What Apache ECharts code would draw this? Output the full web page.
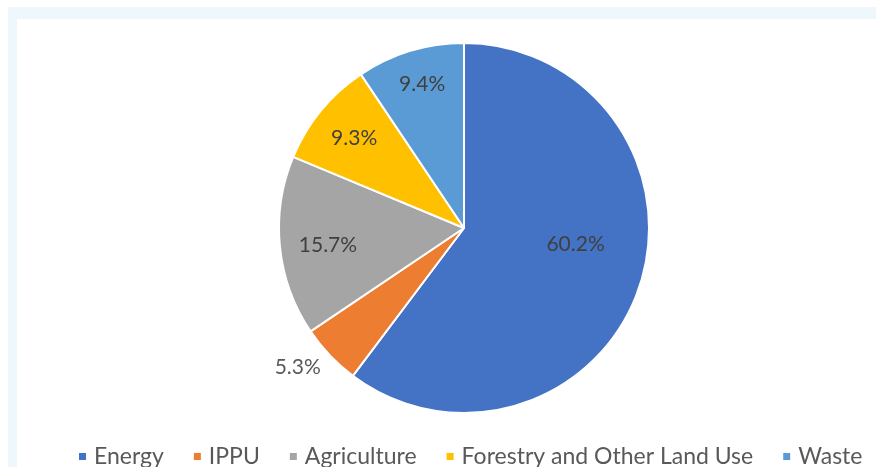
<!DOCTYPE html>
<html>
<head>
<meta charset="utf-8">
<script src="https://cdn.jsdelivr.net/npm/echarts@6/dist/echarts.min.js"></script>
<style>
  html, body { margin: 0; padding: 0; background: #ffffff; }
  #frame { position: absolute; left: 8px; top: 7px; width: 868px; height: 460px;
           border-top: 12px solid #eef7fc; border-left: 9px solid #eef7fc; box-sizing: border-box; }
  #chart { position: absolute; left: 0; top: 0; width: 876px; height: 467px; }
</style>
</head>
<body>
<div id="frame"></div>
<div id="chart"></div>
<script>
const categories = ['Energy', 'IPPU', 'Agriculture', 'Forestry and Other Land Use', 'Waste'];
const shares = [60.2, 5.3, 15.7, 9.3, 9.4];

const colors = ['#4472C4', '#ED7D31', '#A5A5A5', '#FFC000', '#5B9BD5'];
// label nudges from the default "inside" spot (visual tuning only)
const labelNudge = [[21, -14], [-97, 73], [-41, 8], [-36, -29], [-14, -52]];

const chart = echarts.init(document.getElementById('chart'), null, { renderer: 'canvas' });
const FONT = 'Lato, "Liberation Sans", sans-serif';

chart.setOption({
  backgroundColor: 'transparent',
  animation: false,
  color: colors,
  legend: {
    data: categories,
    left: 77,
    top: 445,
    width: 795,
    padding: 0,
    icon: 'rect',
    itemWidth: 9,
    itemHeight: 9,
    itemGap: 28,
    textStyle: { color: '#595959', fontSize: 23, fontFamily: FONT, padding: [0, 0, 0, 2] }
  },
  series: [{
    type: 'pie',
    center: [464, 228],
    radius: [0, 185],
    startAngle: 90,
    clockwise: true,
    avoidLabelOverlap: false,
    itemStyle: { borderColor: '#ffffff', borderWidth: 2 },
    label: {
      show: true,
      position: 'inside',
      formatter: '{c}%',
      color: '#404040',
      fontSize: 21,
      fontFamily: FONT
    },
    labelLine: { show: false },
    emphasis: { disabled: true },
    data: categories.map((name, i) => ({
      name: name,
      value: shares[i],
      label: { offset: labelNudge[i], color: i === 1 ? '#595959' : '#404040' }
    }))
  }]
});
</script>
</body>
</html>
